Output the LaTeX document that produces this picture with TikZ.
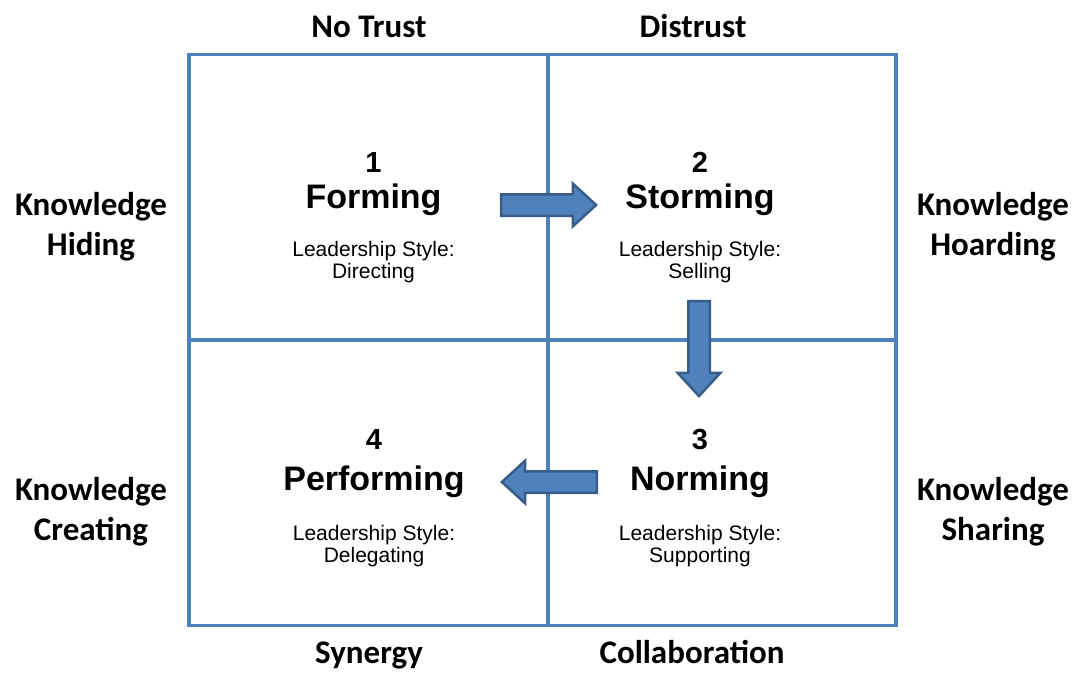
\documentclass[tikz,border=0pt]{standalone}
\usepackage{fontspec}
\setmainfont{Liberation Sans}
\newfontfamily\axisfont{Carlito}
\usetikzlibrary{positioning,shapes.arrows}
\definecolor{gridblue}{RGB}{79,129,189}
\definecolor{arrowedge}{RGB}{56,93,138}
\tikzset{
	grid line/.style={draw=gridblue,line width=3.5pt},
	stage num/.style={font=\fontsize{29}{29}\selectfont\bfseries,inner sep=0pt,text height=20.8pt,text depth=0pt},
	stage name/.style={font=\fontsize{34}{34}\selectfont\bfseries,inner sep=0pt,text height=24.5pt,text depth=7pt},
	lead line/.style={font=\fontsize{21}{21}\selectfont,inner sep=0pt,text height=15pt,text depth=7pt},
	axis label/.style={font=\axisfont\fontsize{33}{33}\selectfont\bfseries,inner sep=0pt,text height=22pt,text depth=18pt},
	block arrow/.style={single arrow,draw=arrowedge,fill=gridblue,line width=2.5pt,
		inner sep=9.5pt,minimum height=95pt,single arrow head extend=10.5pt,
		single arrow tip angle=85,single arrow head indent=0pt}
}

\begin{document}
\begin{tikzpicture}[x=1pt,y=-1pt]
      \useasboundingbox (0,0) rectangle (1078,673);
      \draw[grid line] (189,54.5) rectangle (896,625.5);
      \draw[grid line] (548,54.5) -- (548,625.5);
      \draw[grid line] (189,340) -- (896,340);
      % axis labels
      \node[axis label,anchor=base] (notrust) at (369,37) {No Trust};
      \node[axis label,anchor=base] (distrust) at (693,37) {Distrust};
      \node[axis label,anchor=base] (synergy) at (369,663) {Synergy};
      \node[axis label,anchor=base] (collab) at (692,663) {Collaboration};
      \node[axis label,anchor=base] (hidingA) at (91,215) {Knowledge};
      \node[axis label,below=0pt of hidingA] (hidingB) {Hiding};
      \node[axis label,anchor=base] (hoardA) at (993,215) {Knowledge};
      \node[axis label,below=0pt of hoardA] (hoardB) {Hoarding};
      \node[axis label,anchor=base] (createA) at (91,500) {Knowledge};
      \node[axis label,below=0pt of createA] (createB) {Creating};
      \node[axis label,anchor=base] (shareA) at (993,500) {Knowledge};
      \node[axis label,below=0pt of shareA] (shareB) {Sharing};
      % stages
      \node[stage name,anchor=base] (forming) at (373.5,208) {Forming};
      \node[stage num,above=10.5pt of forming] (formingnum) {1};
      \node[lead line,below=26pt of forming] (formingls) {Leadership Style:};
      \node[lead line,below=0pt of formingls] {Directing};
      \node[stage name,anchor=base] (storming) at (700,208) {Storming};
      \node[stage num,above=10.5pt of storming] (stormingnum) {2};
      \node[lead line,below=26pt of storming] (stormingls) {Leadership Style:};
      \node[lead line,below=0pt of stormingls] {Selling};
      \node[stage name,anchor=base] (norming) at (700,490) {Norming};
      \node[stage num,above=16pt of norming] (normingnum) {3};
      \node[lead line,below=28pt of norming] (normingls) {Leadership Style:};
      \node[lead line,below=0pt of normingls] {Supporting};
      \node[stage name,anchor=base] (performing) at (374,490) {Performing};
      \node[stage num,above=16pt of performing] (performingnum) {4};
      \node[lead line,below=28pt of performing] (performingls) {Leadership Style:};
      \node[lead line,below=0pt of performingls] {Delegating};
      % arrows
      \node[block arrow,anchor=tip] (toStorming) at (598,205) {};
      \node[block arrow,shape border rotate=270,anchor=tip] (toNorming) at (699,398) {};
      \node[block arrow,shape border rotate=180,anchor=tip] (toPerforming) at (500,482) {};
   \end{tikzpicture}
\end{document}
